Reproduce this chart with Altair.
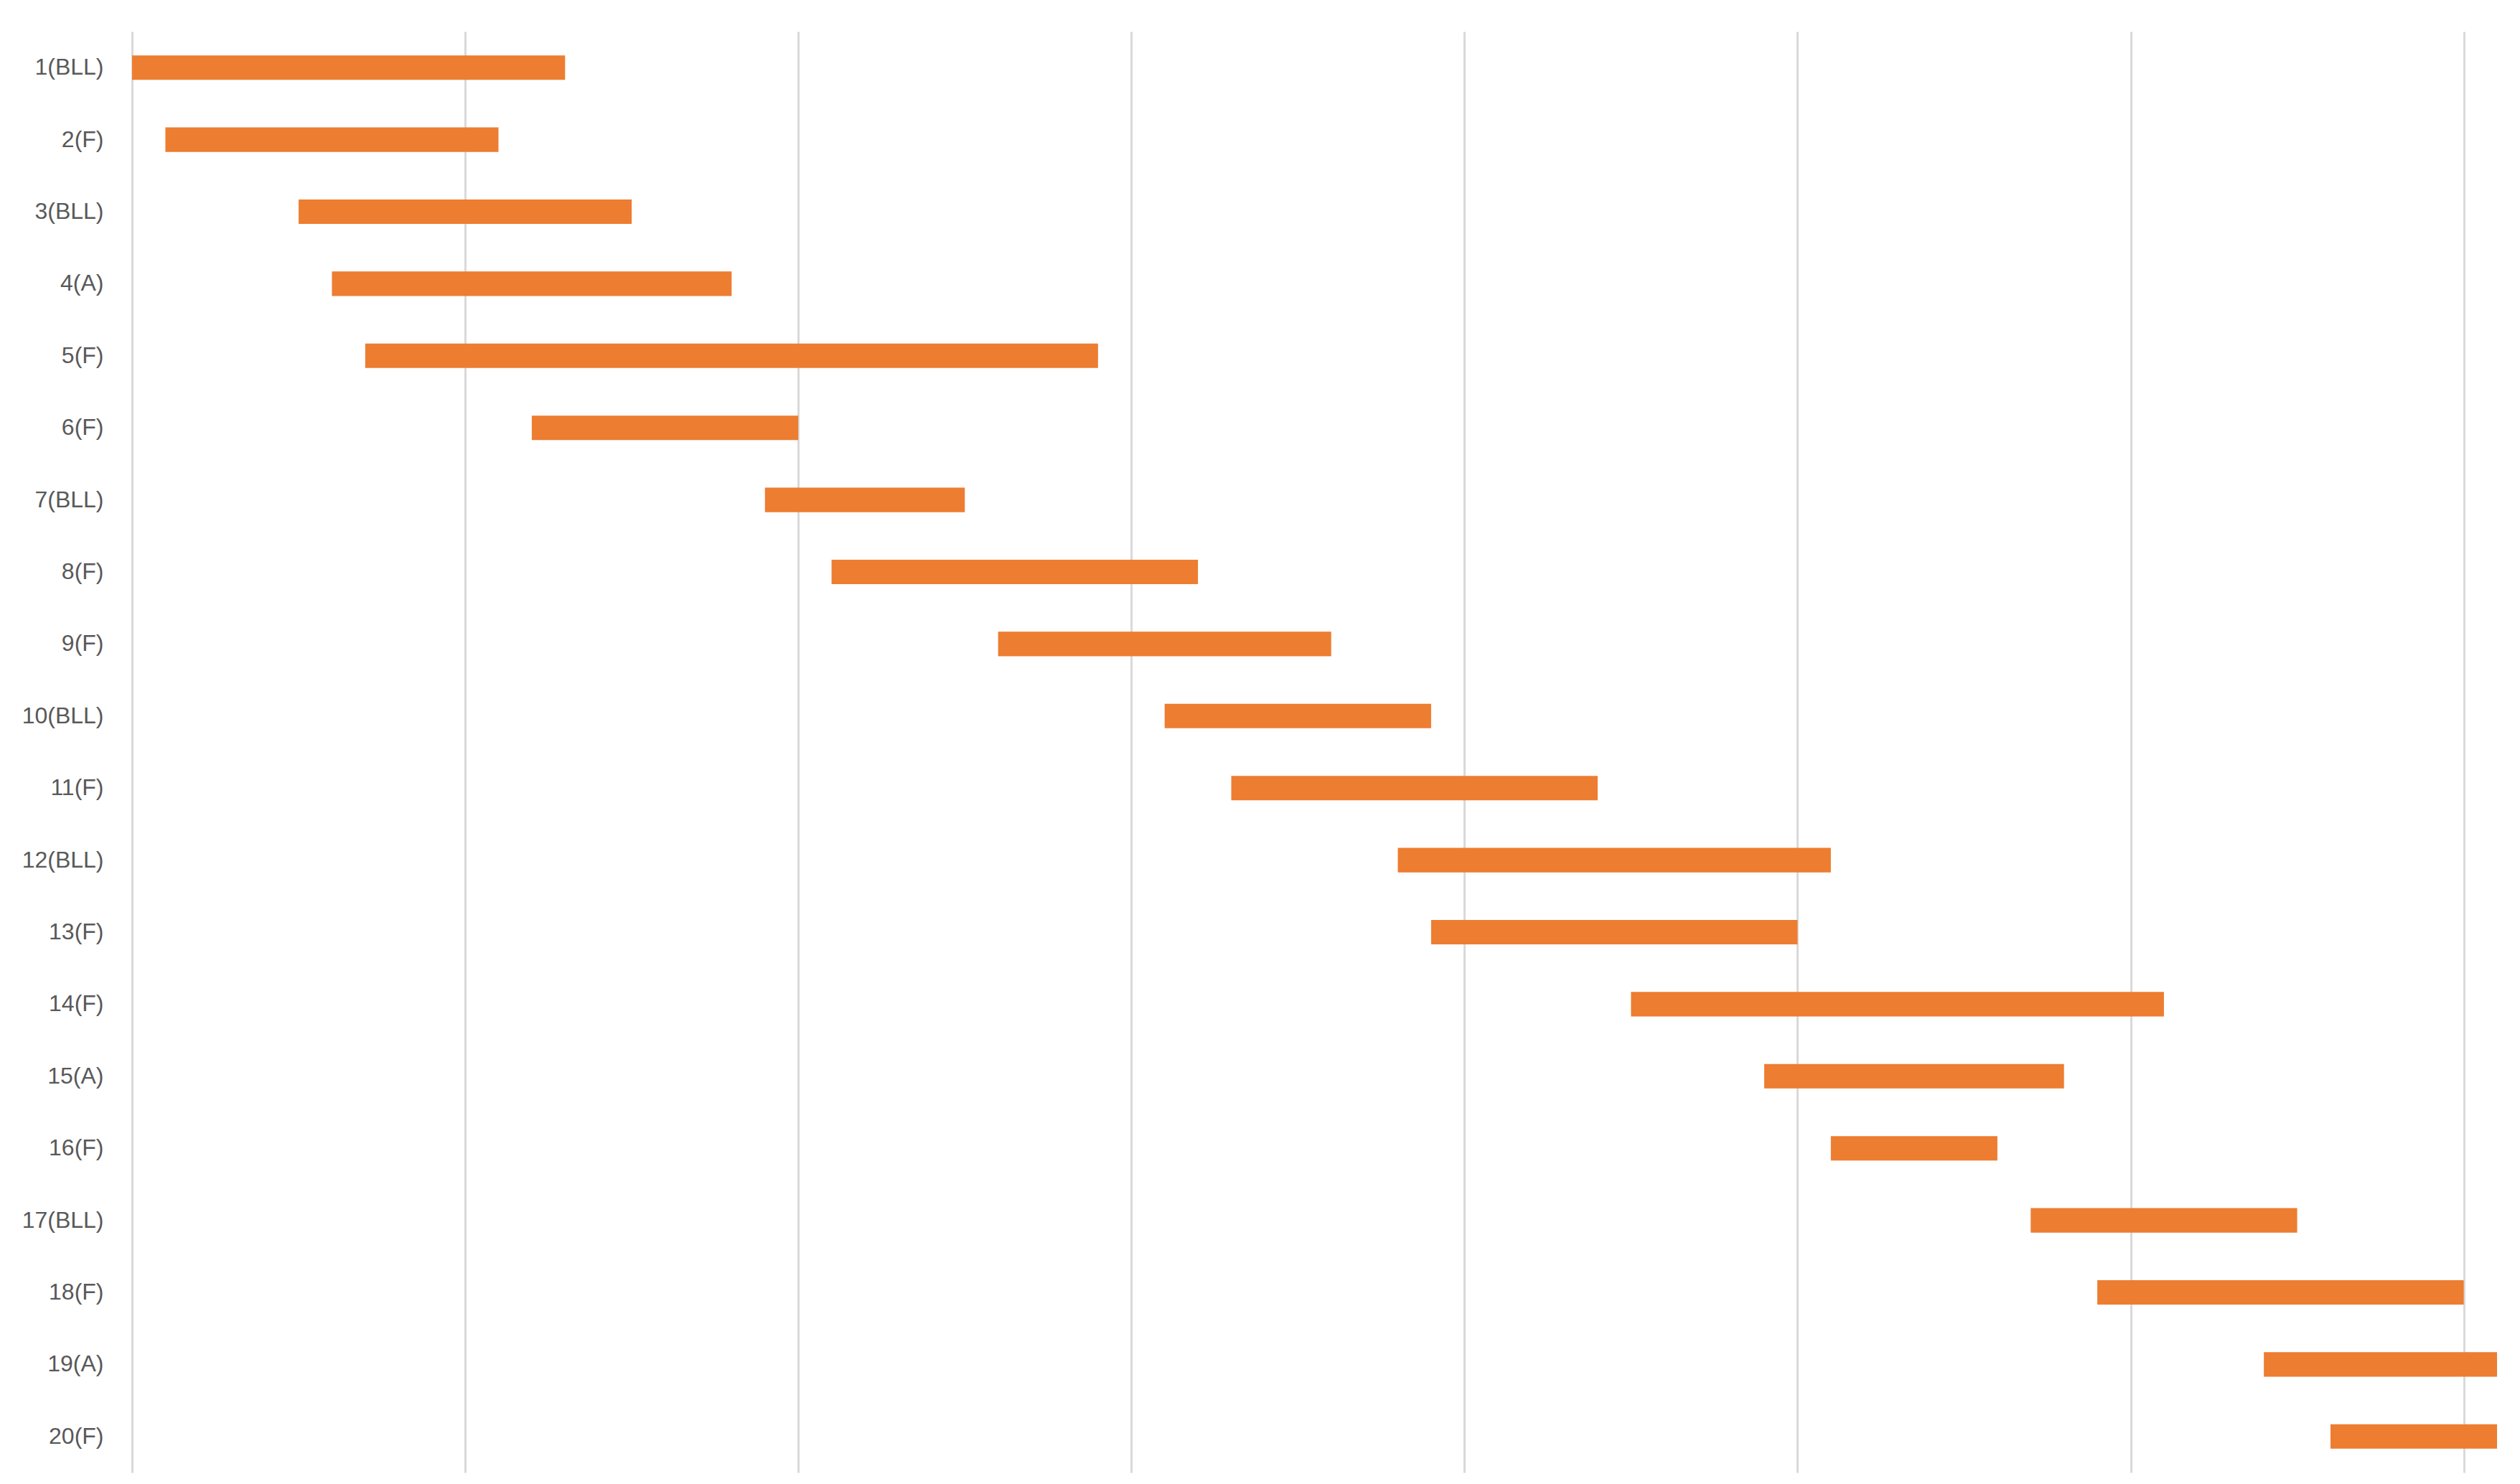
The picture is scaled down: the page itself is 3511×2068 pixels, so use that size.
import altair as alt
import pandas as pd

tasks = ["1(BLL)", "2(F)", "3(BLL)", "4(A)", "5(F)", "6(F)", "7(BLL)", "8(F)", "9(F)",
         "10(BLL)", "11(F)", "12(BLL)", "13(F)", "14(F)", "15(A)", "16(F)", "17(BLL)",
         "18(F)", "19(A)", "20(F)"]
starts = [0, 1, 5, 6, 7, 12, 19, 21, 26, 31, 33, 38, 39, 45, 49, 51, 57, 59, 64, 66]
ends = [13, 11, 15, 18, 29, 20, 25, 32, 36, 39, 44, 51, 50, 61, 58, 56, 65, 70, 71, 71]
grid_values = [0, 10, 20, 30, 40, 50, 60, 70]

df = pd.DataFrame({"task": tasks, "start": starts, "end": ends})

chart = alt.Chart(df).mark_bar(color="#ED7D31").encode(
    x=alt.X("start:Q",
            scale=alt.Scale(domain=[0, 71], nice=False, zero=False),
            axis=alt.Axis(values=grid_values, labels=False, ticks=False, domain=False,
                          title=None, grid=True, gridColor="#d9d9d9", gridWidth=3)),
    x2="end:Q",
    y=alt.Y("task:N", sort=tasks,
            scale=alt.Scale(paddingInner=0.66, paddingOuter=0.33),
            axis=alt.Axis(title=None, ticks=False, domain=False, grid=False,
                          labelFontSize=32, labelColor="#595959", labelFont="Liberation Sans",
                          labelPadding=40)),
).properties(
    width=3295,
    height=2008,
    autosize=alt.AutoSizeParams(type="none"),
    padding={"left": 176, "top": 36, "right": 20, "bottom": 10},
).configure_view(stroke=None)

chart.save("out.html", embed_options={"renderer": "svg", "actions": False})
